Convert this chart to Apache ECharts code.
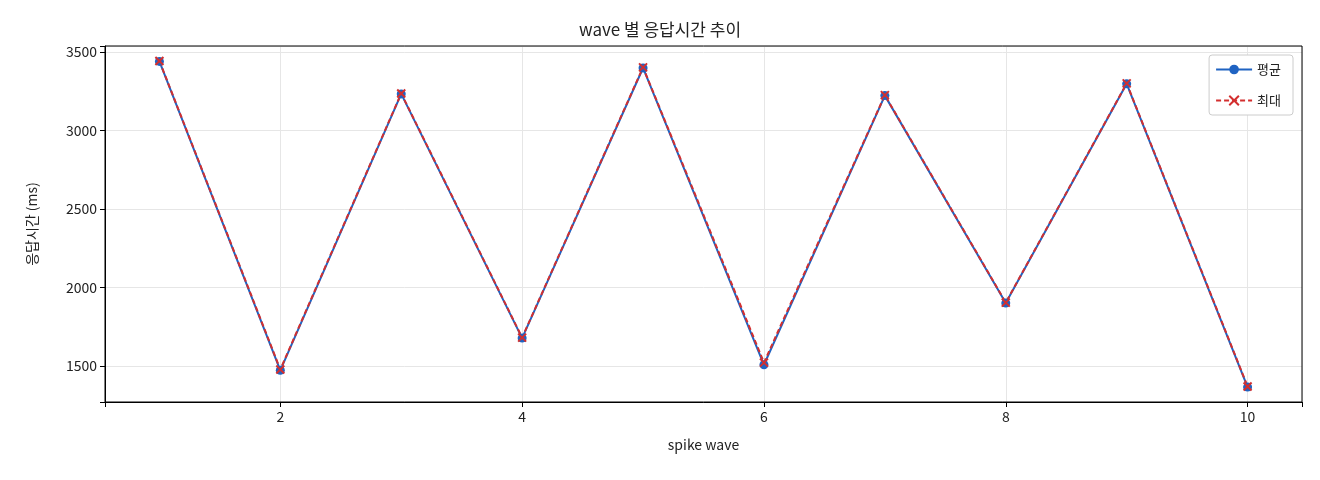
<!DOCTYPE html>
<html><head><meta charset="utf-8">
<script src="https://cdn.jsdelivr.net/npm/echarts@6/dist/echarts.min.js"></script>
<style>html,body{margin:0;padding:0;background:#fff}#c{width:1320px;height:480px}</style>
</head><body><div id="c"></div>
<script>
const waves = [1,2,3,4,5,6,7,8,9,10];
const avgMs = [3440,1473,3233,1678,3398,1508,3222,1901,3297,1366];
const maxMs = [3443,1478,3236,1681,3402,1522,3225,1904,3300,1370];
const xTicks = [2,4,6,8,10];
const yTicks = [1500,2000,2500,3000,3500];
const crossPath = 'path://M0,0L10,10M10,0L0,10';
const font = '"Noto Sans CJK KR","DejaVu Sans",sans-serif';
const chart = echarts.init(document.getElementById('c'));
chart.setOption({
  animation:false,
  title:{text:'wave 별 응답시간 추이',left:'center',top:16,textStyle:{fontFamily:font,fontSize:17,fontWeight:'normal',color:'#222'}},
  grid:{left:105,right:18,top:46,bottom:78},
  legend:{right:27,top:55,orient:'vertical',itemGap:18,itemWidth:36,itemHeight:12,
    backgroundColor:'#fff',borderColor:'#ccc',borderWidth:1,borderRadius:3,padding:[8,12,8,6],
    textStyle:{fontFamily:font,fontSize:13,color:'#222'}},
  xAxis:{type:'value',min:0.55,max:10.45,name:'spike wave',nameLocation:'middle',nameGap:36,
    nameTextStyle:{fontFamily:font,fontSize:14,color:'#222'},
    axisLine:{onZero:false,lineStyle:{color:'#000'}},axisTick:{lineStyle:{color:'#000'}},
    axisLabel:{fontFamily:font,fontSize:14,color:'#222',formatter:v=>xTicks.includes(v)?String(v):''},
    splitLine:{show:true,lineStyle:{color:'#e6e6e6'}}},
  yAxis:{type:'value',min:1271,max:3538,name:'응답시간 (ms)',nameLocation:'middle',nameGap:66,
    nameTextStyle:{fontFamily:font,fontSize:14,color:'#222'},
    axisLine:{show:true,lineStyle:{color:'#000'}},axisTick:{show:true,lineStyle:{color:'#000'}},
    axisLabel:{fontFamily:font,fontSize:14,color:'#222',formatter:v=>yTicks.includes(v)?String(v):''},
    splitLine:{show:true,lineStyle:{color:'#e6e6e6'}}},
  series:[
    {name:'평균',type:'line',data:waves.map((w,i)=>[w,avgMs[i]]),symbol:'circle',symbolSize:9,
      itemStyle:{color:'#1f63c2'},lineStyle:{width:2,color:'#1f63c2'}},
    {name:'최대',type:'line',data:waves.map((w,i)=>[w,maxMs[i]]),symbol:crossPath,symbolSize:8,
      itemStyle:{color:'#d32f2f',borderColor:'#d32f2f',borderWidth:2},
      lineStyle:{width:2,color:'#d32f2f',type:[5,3]}}
  ]
});
chart.setOption({graphic:[{type:'rect',shape:{x:105,y:46,width:1197,height:356},style:{fill:'none',stroke:'#000',lineWidth:1},silent:true,z:100}]});
</script></body></html>
